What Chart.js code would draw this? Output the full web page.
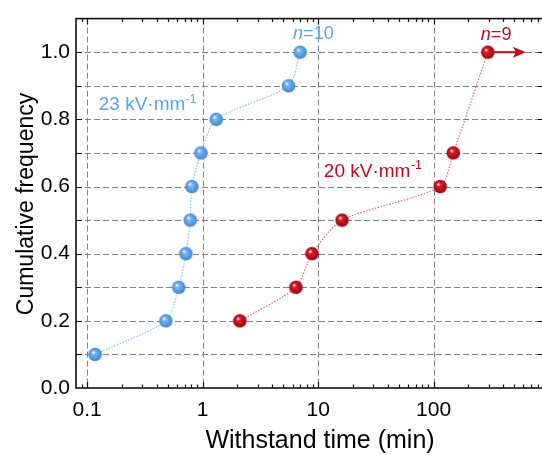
<!DOCTYPE html>
<html>
<head>
<meta charset="utf-8">
<script src="https://cdn.jsdelivr.net/npm/chart.js@4"></script>
<style>
  html, body { margin: 0; padding: 0; background: #fff; overflow: hidden; }
  #wrap { width: 552px; height: 455px; }
</style>
</head>
<body>
<div id="wrap"><canvas id="withstand-chart" width="552" height="455"></canvas></div>
<script>
// withstand time (min), cumulative frequency on y
const freq23 = [0.1, 0.2, 0.3, 0.4, 0.5, 0.6, 0.7, 0.8, 0.9, 1.0];
const time23 = [0.117, 0.48, 0.62, 0.716, 0.78, 0.806, 0.965, 1.31, 5.54, 6.98];
const freq20 = [0.2, 0.3, 0.4, 0.5, 0.6, 0.7, 1.0];
const time20 = [2.1, 6.42, 8.84, 16.1, 114, 148, 295];
const xTicks = [0.1, 1, 10, 100];
const xMinor = [0.09, 0.2, 0.3, 0.4, 0.5, 0.6, 0.7, 0.8, 0.9, 2, 3, 4, 5, 6, 7, 8, 9,
  20, 30, 40, 50, 60, 70, 80, 90, 200, 300, 400, 500, 600, 700, 800];
const yTicks = [0.1, 0.2, 0.3, 0.4, 0.5, 0.6, 0.7, 0.8, 0.9, 1.0];

const BLUE = "#5da2ea";
const RED = "#c30a1c";

function sphere(light, dark) {
  const c = document.createElement("canvas");
  c.width = 15;
  c.height = 15;
  const g = c.getContext("2d");
  const grad = g.createRadialGradient(5.6, 5.2, 0.4, 7.5, 7.5, 7.2);
  grad.addColorStop(0, "#ffffff");
  grad.addColorStop(0.22, light);
  grad.addColorStop(1, dark);
  g.fillStyle = grad;
  g.beginPath();
  g.arc(7.5, 7.5, 6.8, 0, Math.PI * 2);
  g.fill();
  return c;
}

const blueBall = sphere("#7ab6f2", "#3b82d4");
const redBall = sphere("#d8202c", "#970010");

const toPoints = (xs, ys) => xs.map((x, i) => ({ x: x, y: ys[i] }));

const gridPlugin = {
  id: "dashgrid",
  beforeDatasetsDraw(chart) {
    const ctx = chart.ctx;
    const a = chart.chartArea;
    const xs = chart.scales.x;
    const ys = chart.scales.y;
    ctx.save();
    ctx.strokeStyle = "#808080";
    ctx.lineWidth = 1;
    ctx.setLineDash([6, 3]);
    ctx.beginPath();
    yTicks.forEach((v) => {
      const p = Math.round(ys.getPixelForValue(v)) + 0.5;
      ctx.moveTo(a.left, p);
      ctx.lineTo(a.right, p);
    });
    xTicks.forEach((v) => {
      const p = Math.round(xs.getPixelForValue(v)) + 0.5;
      ctx.moveTo(p, a.top);
      ctx.lineTo(p, a.bottom);
    });
    ctx.stroke();
    ctx.restore();
  },
};

const decorPlugin = {
  id: "decor",
  afterDraw(chart) {
    const ctx = chart.ctx;
    const a = chart.chartArea;
    const xs = chart.scales.x;
    const ys = chart.scales.y;
    ctx.save();

    // frame
    ctx.strokeStyle = "#111";
    ctx.lineWidth = 1.6;
    ctx.strokeRect(a.left, a.top, a.right - a.left, a.bottom - a.top);

    // inward ticks
    ctx.lineWidth = 1.2;
    ctx.beginPath();
    xTicks.forEach((v) => {
      const p = Math.round(xs.getPixelForValue(v)) + 0.5;
      ctx.moveTo(p, a.bottom); ctx.lineTo(p, a.bottom - 6);
      ctx.moveTo(p, a.top); ctx.lineTo(p, a.top + 6);
    });
    xMinor.forEach((v) => {
      const p = Math.round(xs.getPixelForValue(v)) + 0.5;
      ctx.moveTo(p, a.bottom); ctx.lineTo(p, a.bottom - 3.5);
      ctx.moveTo(p, a.top); ctx.lineTo(p, a.top + 3.5);
    });
    yTicks.forEach((v) => {
      const p = Math.round(ys.getPixelForValue(v)) + 0.5;
      ctx.moveTo(a.left, p); ctx.lineTo(a.left + 6, p);
      ctx.moveTo(a.right, p); ctx.lineTo(a.right - 6, p);
    });
    ctx.stroke();

    // axis titles
    ctx.fillStyle = "#000";
    ctx.font = "25px 'Liberation Sans', Arial, sans-serif";
    ctx.textAlign = "center";
    ctx.textBaseline = "alphabetic";
    ctx.fillText("Withstand time (min)", 320, 448);
    ctx.save();
    ctx.translate(33, 204);
    ctx.rotate(-Math.PI / 2);
    ctx.font = "23px 'Liberation Sans', Arial, sans-serif";
    ctx.fillText("Cumulative frequency", 0, 0);
    ctx.restore();

    // arrow from the last 20 kV point (still unbroken)
    const red = chart.getDatasetMeta(1).data;
    const last = red[red.length - 1];
    ctx.strokeStyle = RED;
    ctx.fillStyle = RED;
    ctx.lineWidth = 2;
    ctx.beginPath();
    ctx.moveTo(last.x + 5, last.y);
    ctx.lineTo(last.x + 32, last.y);
    ctx.stroke();
    ctx.beginPath();
    ctx.moveTo(last.x + 38, last.y);
    ctx.lineTo(last.x + 25, last.y - 5.5);
    ctx.lineTo(last.x + 28, last.y);
    ctx.lineTo(last.x + 25, last.y + 5.5);
    ctx.closePath();
    ctx.fill();

    // n labels
    const blue = chart.getDatasetMeta(0).data;
    const bl = blue[blue.length - 1];
    nLabel(ctx, "10", bl.x - 7, bl.y - 18, BLUE);
    nLabel(ctx, "9", last.x - 7, last.y - 17, RED);

    // field labels
    fieldLabel(ctx, "23 kV\u00b7mm", xs.getPixelForValue(0.126), ys.getPixelForValue(0.842), BLUE);
    fieldLabel(ctx, "20 kV\u00b7mm", xs.getPixelForValue(11.2), ys.getPixelForValue(0.643), RED);
    ctx.restore();
  },
};

function nLabel(ctx, num, x, y, color) {
  ctx.fillStyle = color;
  ctx.textAlign = "left";
  ctx.textBaseline = "middle";
  ctx.font = "italic 18px 'Liberation Sans', Arial, sans-serif";
  ctx.fillText("n", x, y);
  const w = ctx.measureText("n").width;
  ctx.font = "18px 'Liberation Sans', Arial, sans-serif";
  ctx.fillText("=" + num, x + w, y);
}

function fieldLabel(ctx, text, x, y, color) {
  ctx.fillStyle = color;
  ctx.textAlign = "left";
  ctx.textBaseline = "middle";
  ctx.font = "19px 'Liberation Sans', Arial, sans-serif";
  ctx.fillText(text, x, y);
  const w = ctx.measureText(text).width;
  ctx.font = "12px 'Liberation Sans', Arial, sans-serif";
  ctx.fillText("-1", x + w + 0.5, y - 6);
}

new Chart(document.getElementById("withstand-chart"), {
  type: "line",
  data: {
    datasets: [
      {
        label: "23 kV/mm",
        data: toPoints(time23, freq23),
        borderColor: "#8dbff0",
        borderWidth: 1.2,
        borderDash: [1.5, 1.5],
        tension: 0.25,
        pointStyle: blueBall,
        pointRadius: 7,
      },
      {
        label: "20 kV/mm",
        data: toPoints(time20, freq20),
        borderColor: "#ea6c78",
        borderWidth: 1.2,
        borderDash: [1.5, 1.5],
        tension: 0.25,
        pointStyle: redBall,
        pointRadius: 7,
      },
    ],
  },
  options: {
    responsive: false,
    animation: false,
    devicePixelRatio: 1,
    layout: { padding: { top: 13, right: 8, left: 0, bottom: 0 } },
    plugins: { legend: { display: false }, tooltip: { enabled: false } },
    scales: {
      x: {
        type: "logarithmic",
        min: 0.08,
        max: 900,
        afterBuildTicks: (scale) => {
          scale.ticks = xTicks.map((v) => ({ value: v }));
        },
        afterFit: (scale) => {
          scale.height = 67;
        },
        ticks: {
          color: "#000",
          padding: 10,
          maxRotation: 0,
          font: { family: "'Liberation Sans', Arial, sans-serif", size: 21 },
          callback: (v) => String(v),
        },
        grid: { display: false, drawTicks: false },
        border: { display: false },
      },
      y: {
        min: 0,
        max: 1.1,
        afterBuildTicks: (scale) => {
          scale.ticks = [0].concat(yTicks).map((v) => ({ value: v }));
        },
        afterFit: (scale) => {
          scale.width = 76;
        },
        ticks: {
          color: "#000",
          padding: 6,
          font: { family: "'Liberation Sans', Arial, sans-serif", size: 21 },
          callback: (v) => (Math.round(v * 10) % 2 === 0 ? v.toFixed(1) : ""),
        },
        grid: { display: false, drawTicks: false },
        border: { display: false },
      },
    },
  },
  plugins: [gridPlugin, decorPlugin],
});
</script>
</body>
</html>
